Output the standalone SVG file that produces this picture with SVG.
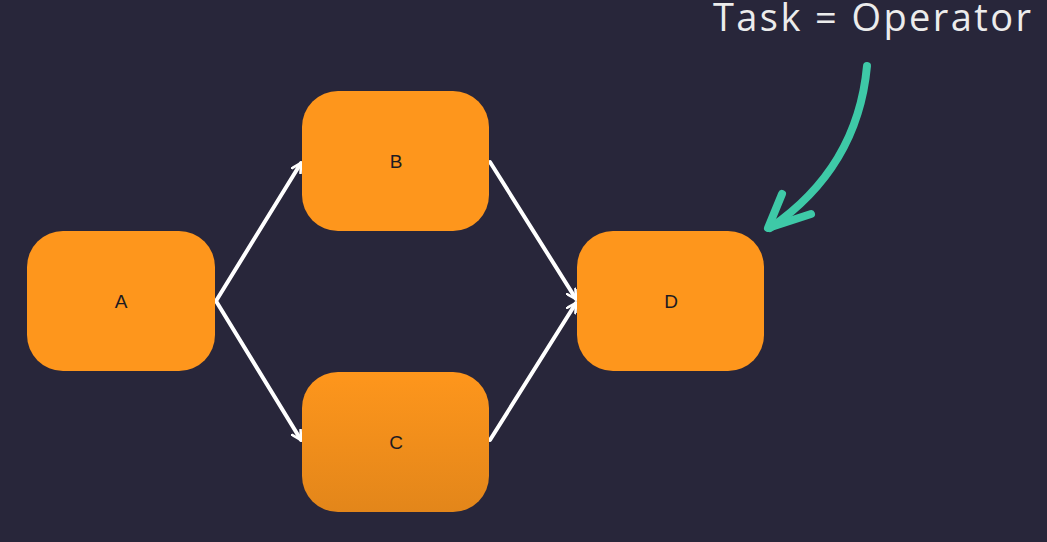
<svg xmlns="http://www.w3.org/2000/svg" width="1047" height="542" viewBox="0 0 1047 542">
<style>
.node rect{fill:#FE961C}
.node text{font-family:"Liberation Sans",Arial,sans-serif;font-size:19px;fill:#1d1b22;text-anchor:middle;dominant-baseline:central}
.edge{stroke:#ffffff;stroke-width:4;fill:none;stroke-linecap:round}
.title{font-family:"Open Sans","Noto Sans",sans-serif;font-size:38px;fill:#ececec}
</style>
<defs>
<marker id="ah" viewBox="0 0 12 12" refX="10" refY="6" markerWidth="12" markerHeight="12" markerUnits="userSpaceOnUse" orient="auto">
<path d="M1,1 L10,6 L1,11" fill="none" stroke="#ffffff" stroke-width="2.6" stroke-linecap="round" stroke-linejoin="round"/>
</marker>
<linearGradient id="gc" x1="0" y1="0" x2="0" y2="1">
<stop offset="0" stop-color="#FE961C"/>
<stop offset="1" stop-color="#E3861A"/>
</linearGradient>
</defs>
<rect width="1047" height="542" fill="#28263A"/>
<g id="connectors">
<line class="edge" x1="216" y1="301" x2="301" y2="163" marker-end="url(#ah)"/>
<line class="edge" x1="216" y1="301" x2="301" y2="440" marker-end="url(#ah)"/>
<line class="edge" x1="490" y1="162" x2="576" y2="299" marker-end="url(#ah)"/>
<line class="edge" x1="490" y1="440" x2="576" y2="303" marker-end="url(#ah)"/>
</g>
<g id="A" class="node"><rect x="27" y="231" width="188" height="140" rx="36"/><text x="121" y="301">A</text></g>
<g id="B" class="node"><rect x="302" y="91" width="187" height="140" rx="36"/><text x="396" y="161">B</text></g>
<g id="C" class="node"><rect x="302" y="372" width="187" height="140" rx="36" style="fill:url(#gc)"/><text x="396" y="442">C</text></g>
<g id="D" class="node"><rect x="577" y="231" width="187" height="140" rx="36"/><text x="671" y="301">D</text></g>
<g id="annotation">
<text class="title" x="713" y="31" textLength="318" lengthAdjust="spacing">Task = Operator</text>
<path d="M867,66 C862,120 840,180 770,228" fill="none" stroke="#3EC9A7" stroke-width="8" stroke-linecap="round"/>
<path d="M782,194 L768,228 L811,214" fill="none" stroke="#3EC9A7" stroke-width="8" stroke-linecap="round" stroke-linejoin="round"/>
</g>
</svg>
